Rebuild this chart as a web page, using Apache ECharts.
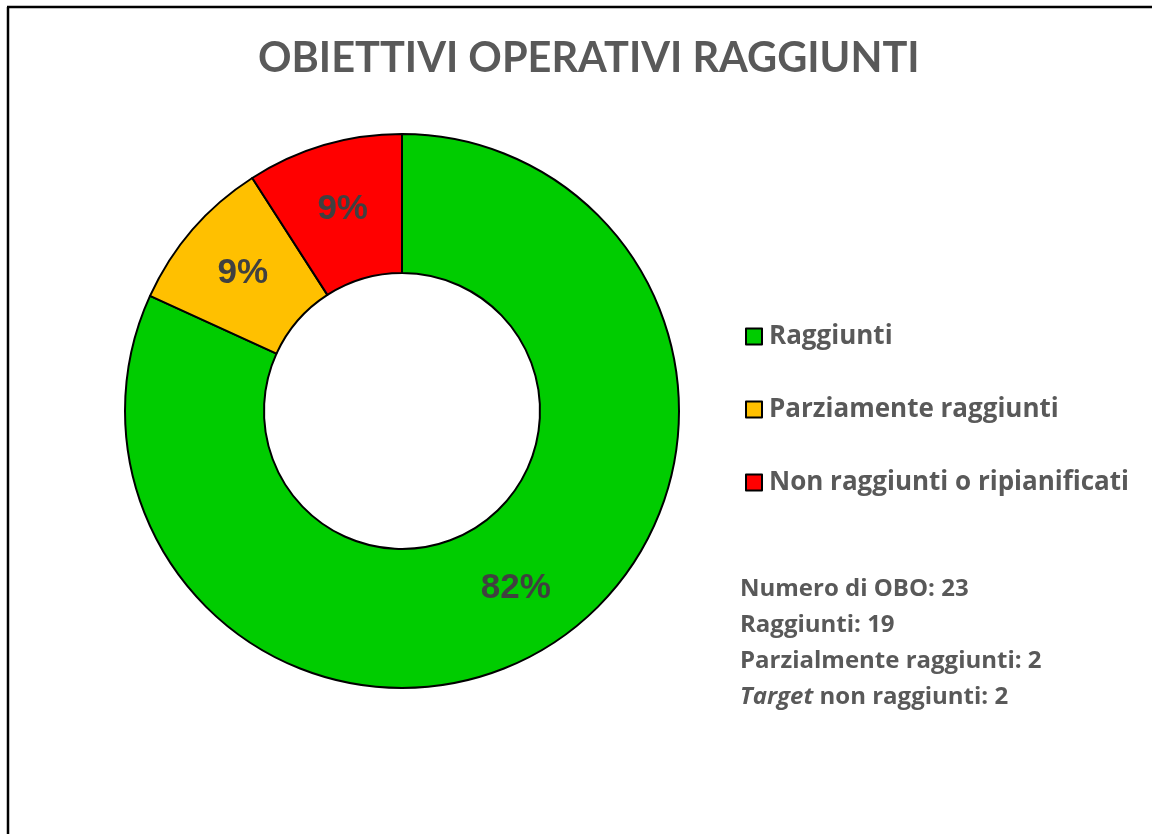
<!DOCTYPE html>
<html><head><meta charset="utf-8">
<script src="https://cdn.jsdelivr.net/npm/echarts@6/dist/echarts.min.js"></script>
<style>html,body{margin:0;padding:0;background:#fff}#c{width:1152px;height:834px}</style>
</head><body><div id="c"></div>
<script>
const categories = ['Raggiunti', 'Parziamente raggiunti', 'Non raggiunti o ripianificati'];
const values = [18, 2, 2];
const colors = ['#00CC00', '#FFC000', '#FF0000'];
const statsLines = ['Numero di OBO: 23', 'Raggiunti: 19', 'Parzialmente raggiunti: 2', '{i|Target} non raggiunti: 2'];
const titleText = 'OBIETTIVI OPERATIVI RAGGIUNTI';

const chart = echarts.init(document.getElementById('c'), null, {renderer: 'canvas'});
const TFONT = 'Lato';
const FONT = 'Open Sans';
chart.setOption({
  backgroundColor: '#fff',
  animation: false,
  title: {
    text: titleText, left: 253, top: 33,
    textStyle: {fontFamily: TFONT, fontWeight: 'bold', fontSize: 41.5, color: '#595959'}
  },
  legend: {
    orient: 'vertical', left: 740, top: 318,
    itemWidth: 16, itemHeight: 16, itemGap: 46, icon: 'rect',
    itemStyle: {borderColor: '#000', borderWidth: 2},
    textStyle: {fontFamily: FONT, fontWeight: 'bold', fontSize: 26, color: '#595959', lineHeight: 27, padding: [0, 0, 0, 2]},
    data: categories
  },
  graphic: [
    {type: 'line', shape: {x1: 8, y1: 7, x2: 8, y2: 834}, style: {stroke: '#000', lineWidth: 2.5}},
    {type: 'line', shape: {x1: 7, y1: 7, x2: 1152, y2: 7}, style: {stroke: '#000', lineWidth: 2.5}},
    {type: 'text', left: 740, top: 571, style: {
      text: statsLines.join('\n'),
      font: 'bold 24px ' + FONT, fill: '#595959', lineHeight: 36,
      rich: {i: {fontStyle: 'italic', fontWeight: 'bold', fontSize: 24, fontFamily: FONT, fill: '#595959', lineHeight: 36}}
    }}
  ],
  series: [{
    type: 'pie', center: [402, 411], radius: [138, 277],
    startAngle: 90, clockwise: true, silent: true,
    itemStyle: {borderColor: '#000', borderWidth: 2},
    label: {show: true, position: 'inside',
      formatter: p => Math.round(p.percent) + '%',
      fontFamily: 'Liberation Sans', fontWeight: 'bold', fontSize: 35, color: '#404040'},
    labelLine: {show: false},
    data: categories.map((n, i) => ({name: n, value: values[i], itemStyle: {color: colors[i]}}))
  }]
});
</script></body></html>
